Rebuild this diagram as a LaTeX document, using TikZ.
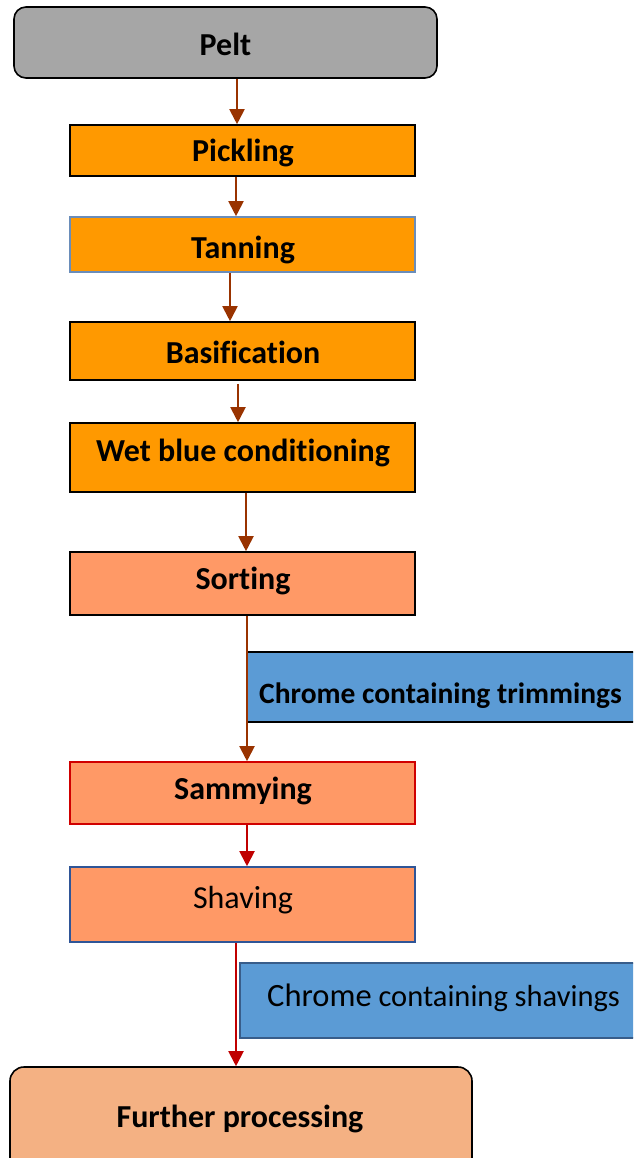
\documentclass[tikz,border=0pt]{standalone}
\usepackage{fontspec}
\setmainfont{Carlito}[Ligatures={NoCommon}]
\usetikzlibrary{arrows.meta}
\definecolor{greyf}{HTML}{A6A6A6}
\definecolor{orangef}{HTML}{FF9900}
\definecolor{salmonf}{HTML}{FF9966}
\definecolor{peachf}{HTML}{F4B183}
\definecolor{bluef}{HTML}{5B9BD5}
\definecolor{steel}{HTML}{6A8DBA}
\definecolor{navyb}{HTML}{2F5597}
\definecolor{navyc}{HTML}{385D8A}
\definecolor{redb}{HTML}{D00000}
\definecolor{brownarr}{HTML}{993300}
\definecolor{redarr}{HTML}{C00000}
\tikzset{
  box/.style={draw=black, line width=1.6pt, inner sep=0pt, minimum width=345pt},
  txt/.style={font=\fontsize{32}{36}\selectfont\bfseries, inner sep=0pt},
  ntxt/.style={font=\fontsize{32}{36}\selectfont, inner sep=0pt},
  arrb/.style={draw=brownarr, line width=2pt, -{Triangle[width=15pt,length=15pt]}, brownarr},
  arrr/.style={draw=redarr, line width=2pt, -{Triangle[width=15pt,length=15pt]}, redarr},
}
\begin{document}
\begin{tikzpicture}[x=1pt,y=-1pt]
\useasboundingbox (0,0) rectangle (633,1158);
\clip (0,0) rectangle (633,1158);
% boxes
\node[box, fill=greyf, rounded corners=12pt, minimum width=423pt, minimum height=71pt] (pelt) at (225.5,42.5) {};
\node[box, fill=orangef, minimum height=51pt] (pick) at (242.5,150.5) {};
\node[box, fill=orangef, draw=steel, minimum height=55pt] (tan) at (242.5,244.5) {};
\node[box, fill=orangef, minimum height=58pt] (bas) at (242.5,351) {};
\node[box, fill=orangef, minimum height=69pt] (wet) at (242.5,457.5) {};
\node[box, fill=salmonf, minimum height=63pt] (sort) at (242.5,583.5) {};
\node[box, fill=bluef, minimum width=400pt, minimum height=70pt] (trim) at (447,687) {};
\node[box, fill=salmonf, draw=redb, minimum height=62pt] (samm) at (242.5,793) {};
\node[box, fill=salmonf, draw=navyb, minimum height=75pt] (shav) at (242.5,904.5) {};
\node[box, fill=bluef, draw=navyc, minimum width=400pt, minimum height=75pt] (shvs) at (440,1000.5) {};
\node[box, fill=peachf, rounded corners=14pt, minimum width=462pt, minimum height=110pt] (fur) at (241,1122) {};
% texts
\node[txt] (peltT) at (225.5,44) {Pelt};
\node[txt] (pickT) at (243,153) {Pickling};
\node[txt] (tanT) at (243,250) {Tanning};
\node[txt] (basT) at (243,352) {Basification};
\node[txt] (wetT) at (243,453) {Wet blue conditioning};
\node[txt] (sortT) at (243,581) {Sorting};
\node[txt, anchor=west, font=\fontsize{29.5}{34}\selectfont\bfseries] (trimT) at (259,696) {Chrome containing trimmings};
\node[txt] (sammT) at (243,791) {Sammying};
\node[ntxt] (shavT) at (243,900) {Shaving};
\node[ntxt, anchor=west, font=\fontsize{30.5}{34}\selectfont] (shvsT) at (267,998) {{\fontsize{32.5}{34}\selectfont Chrome} containing shavings};
\node[txt] (furT) at (240,1119) {Further processing};
% connectors
\draw[arrb] ([xshift=11.5pt]pelt.south) -- ([xshift=-5.5pt]pick.north);
\draw[arrb] ([xshift=-6.5pt]pick.south) -- ([xshift=-6.5pt]tan.north);
\draw[arrb] ([xshift=-12.5pt]tan.south) -- ([xshift=-12.5pt]bas.north);
\draw[arrb] ([xshift=-4.5pt,yshift=-3pt]bas.south) -- ([xshift=-4.5pt]wet.north);
\draw[arrb] ([xshift=3.5pt]wet.south) -- ([xshift=3.5pt]sort.north);
\draw[arrb] ([xshift=4.5pt]sort.south) -- ([xshift=4.5pt]samm.north);
\draw[arrr] ([xshift=4.5pt]samm.south) -- ([xshift=4.5pt]shav.north);
\draw[arrr] ([xshift=-6.5pt]shav.south) -- ([xshift=-5pt]fur.north);
\end{tikzpicture}
\end{document}
